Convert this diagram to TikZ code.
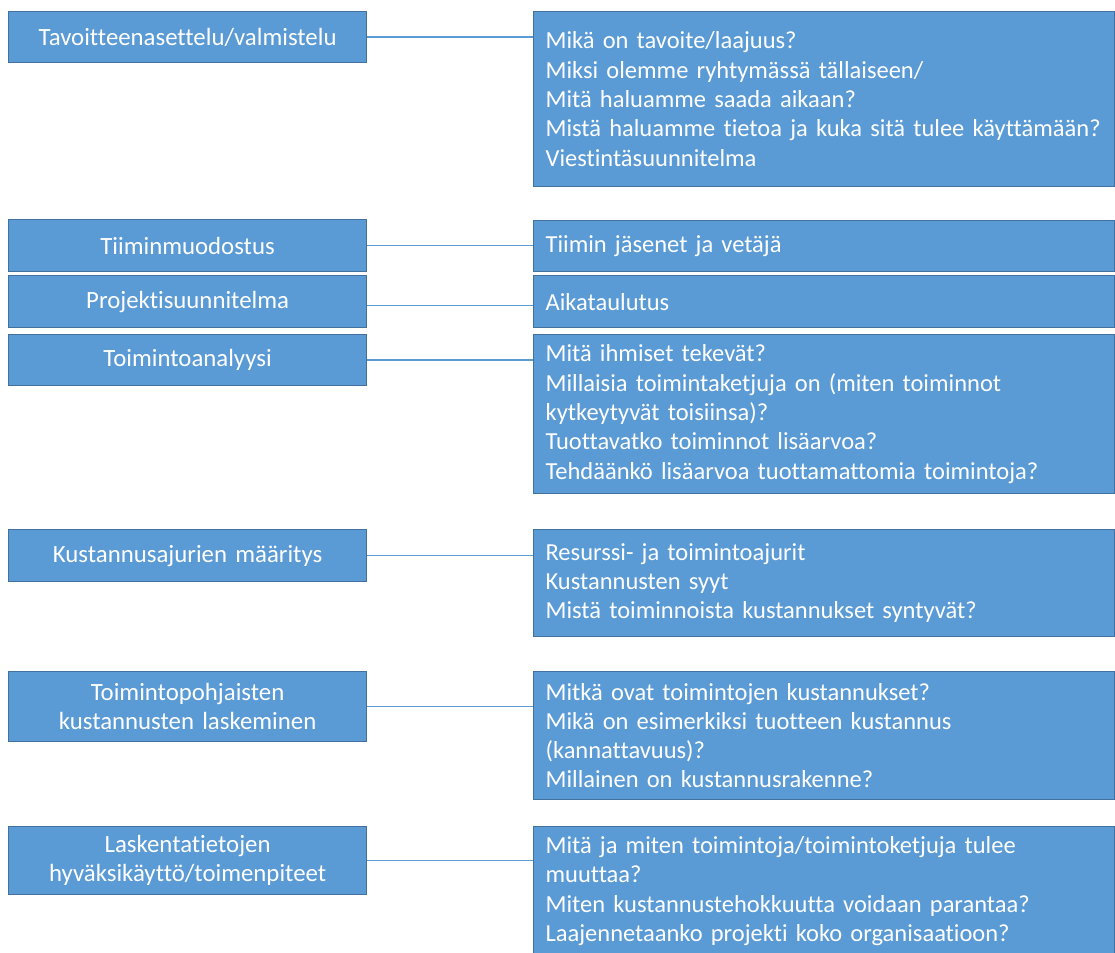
\documentclass[tikz,border=0pt]{standalone}
\usepackage{fontspec}
\setmainfont{Carlito}[Ligatures=NoCommon]
\definecolor{boxfill}{HTML}{5B9BD5}
\definecolor{boxline}{HTML}{41719C}
\hyphenpenalty=10000\relax
\exhyphenpenalty=10000\relax
\begin{document}
\begin{tikzpicture}[x=1pt,y=1pt,
  lbox/.style={draw=boxline, line width=1.2pt, fill=boxfill, text=white, anchor=north west,
    inner xsep=6pt, inner ysep=0pt, text width=346pt, align=center,
    font=\fontsize{24.8}{29.3}\selectfont},
  rbox/.style={draw=boxline, line width=1.2pt, fill=boxfill, text=white, anchor=north west,
    inner xsep=12pt, inner ysep=0pt, text width=557pt, align=left,
    font=\fontsize{24.5}{29.3}\selectfont},
  conn/.style={draw=boxfill, line width=1.6pt}]
\clip (0,0) rectangle (1115,-952);
\fill[white] (0,0) rectangle (1115,-952);
% left boxes
\node[lbox, minimum height=51pt] (L1) at (8,-11) {Tavoitteenasettelu/valmistelu};
\node[lbox, minimum height=52pt] (L2) at (8,-219) {Tiiminmuodostus};
\node[lbox, minimum height=52pt] (L3) at (8,-275) {Projektisuunnitelma};
\node[lbox, minimum height=51pt] (L4) at (8,-334) {Toimintoanalyysi};
\node[lbox, minimum height=52pt] (L5) at (8,-529) {Kustannusajurien määritys};
\node[lbox, minimum height=70pt] (L6) at (8,-671) {Toimintopohjaisten\\kustannusten laskeminen};
\node[lbox, minimum height=68pt] (L7) at (8,-826) {Laskentatietojen\\hyväksikäyttö/toimenpiteet};
% right boxes
\node[rbox, minimum height=175pt] (R1) at (533,-11) {Mikä on tavoite/laajuus?\\Miksi olemme ryhtymässä tällaiseen/\\Mitä haluamme saada aikaan?\\\mbox{Mistä haluamme tietoa ja kuka sitä tulee käyttämään?}\\Viestintäsuunnitelma};
\node[rbox, minimum height=51pt] (R2) at (533,-220) {Tiimin jäsenet ja vetäjä};
\node[rbox, minimum height=52pt] (R3) at (533,-275) {Aikataulutus};
\node[rbox, minimum height=159pt] (R4) at (533,-334) {Mitä ihmiset tekevät?\\Millaisia toimintaketjuja on (miten toiminnot\\kytkeytyvät toisiinsa)?\\Tuottavatko toiminnot lisäarvoa?\\Tehdäänkö lisäarvoa tuottamattomia toimintoja?};
\node[rbox, minimum height=107pt] (R5) at (533,-529) {Resurssi- ja toimintoajurit\\Kustannusten syyt\\Mistä toiminnoista kustannukset syntyvät?};
\node[rbox, minimum height=128pt] (R6) at (533,-671) {Mitkä ovat toimintojen kustannukset?\\Mikä on esimerkiksi tuotteen kustannus\\(kannattavuus)?\\Millainen on kustannusrakenne?};
\node[rbox, minimum height=129pt] (R7) at (533,-826) {Mitä ja miten toimintoja/toimintoketjuja tulee\\muuttaa?\\Miten kustannustehokkuutta voidaan parantaa?\\Laajennetaanko projekti koko organisaatioon?};
% connectors
\draw[conn] (L1.east) -- (L1.east -| R1.west);
\draw[conn] (L2.east) -- (L2.east -| R2.west);
\draw[conn] ([yshift=-4pt]L3.east) -- ([yshift=-4pt]L3.east -| R3.west);
\draw[conn] (L4.east) -- (L4.east -| R4.west);
\draw[conn] (L5.east) -- (L5.east -| R5.west);
\draw[conn] (L6.east) -- (L6.east -| R6.west);
\draw[conn] (L7.east) -- (L7.east -| R7.west);
\end{tikzpicture}
\end{document}
